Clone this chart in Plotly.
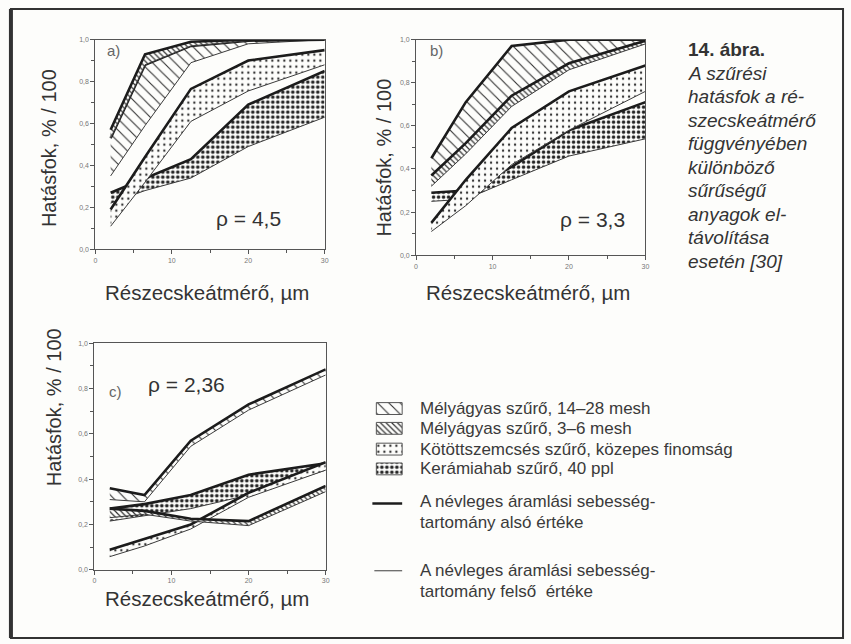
import plotly.graph_objects as go

W, H = 851, 644

# particle diameter (µm) at which the filter efficiencies were measured
diam = [2, 6.5, 12.5, 20, 30]

# --- a) rho = 4,5 ---  thick line: lower nominal flow velocity, thin: upper
a_deep1428_low = [0.53, 0.88, 0.97, 0.995, 1.0]
a_deep1428_high = [0.35, 0.59, 0.89, 0.98, 1.0]
a_deep36_low = [0.57, 0.93, 0.99, 1.0, 1.0]
a_deep36_high = [0.53, 0.88, 0.97, 0.995, 1.0]
a_bonded_low = [0.19, 0.44, 0.765, 0.90, 0.95]
a_bonded_high = [0.11, 0.32, 0.61, 0.755, 0.88]
a_foam_low = [0.27, 0.34, 0.43, 0.69, 0.85]
a_foam_high = [0.22, 0.28, 0.34, 0.49, 0.63]

# --- b) rho = 3,3 ---
b_deep1428_low = [0.45, 0.71, 0.97, 1.0, 1.0]
b_deep1428_high = [0.37, 0.52, 0.74, 0.89, 0.995]
b_deep36_low = [0.37, 0.52, 0.74, 0.89, 0.995]
b_deep36_high = [0.32, 0.47, 0.69, 0.86, 0.98]
b_bonded_low = [0.15, 0.35, 0.59, 0.76, 0.88]
b_bonded_high = [0.11, 0.23, 0.42, 0.58, 0.76]
b_foam_low = [0.29, 0.30, 0.41, 0.58, 0.71]
b_foam_high = [0.25, 0.26, 0.35, 0.46, 0.54]

# --- c) rho = 2,36 ---
c_deep1428_low = [0.36, 0.33, 0.57, 0.73, 0.885]
c_deep1428_high = [0.31, 0.30, 0.545, 0.705, 0.86]
c_deep36_low = [0.27, 0.26, 0.225, 0.215, 0.37]
c_deep36_high = [0.23, 0.245, 0.215, 0.195, 0.345]
c_bonded_low = [0.088, 0.135, 0.20, 0.34, 0.475]
c_bonded_high = [0.058, 0.105, 0.18, 0.32, 0.44]
c_foam_low = [0.27, 0.29, 0.33, 0.42, 0.47]
c_foam_high = [0.215, 0.24, 0.27, 0.33, 0.44]

y_ticks = [0.0, 0.2, 0.4, 0.6, 0.8, 1.0]
x_ticks = [0, 10, 20, 30]

legend_labels = [
    "Mélyágyas szűrő, 14–28 mesh",
    "Mélyágyas szűrő, 3–6 mesh",
    "Kötöttszemcsés szűrő, közepes finomság",
    "Kerámiahab szűrő, 40 ppl",
]
line_labels = [
    ["A névleges áramlási sebesség-", "tartomány alsó értéke"],
    ["A névleges áramlási sebesség-", "tartomány felső  értéke"],
]
caption = [
    "<b>14. ábra.</b>",
    "<i>A szűrési</i>",
    "<i>hatásfok a ré-</i>",
    "<i>szecskeátmérő</i>",
    "<i>függvényében</i>",
    "<i>különböző</i>",
    "<i>sűrűségű</i>",
    "<i>anyagok el-</i>",
    "<i>távolítása</i>",
    "<i>esetén [30]</i>",
]

INK = "#262626"
BG = "#fdfdfb"
FONT = "Liberation Sans, Arial, sans-serif"

PATTERNS = [
    dict(shape="\\", size=8, solidity=0.14, fgcolor="#333", bgcolor=BG, fillmode="replace"),
    dict(shape="\\", size=4, solidity=0.3, fgcolor="#333", bgcolor=BG, fillmode="replace"),
    dict(shape=".", size=6, solidity=0.12, fgcolor="#333", bgcolor=BG, fillmode="replace"),
    dict(shape=".", size=5, solidity=0.4, fgcolor="#222", bgcolor=BG, fillmode="replace"),
]


def px(x):
    return x / W


def py(y):
    return 1 - y / H


fig = go.Figure()


def add_band(xa, ya, low, high, pattern):
    # thin line = upper velocity limit, thick line = lower velocity limit
    fig.add_trace(go.Scatter(
        x=diam, y=high, mode="lines", xaxis=xa, yaxis=ya,
        line=dict(color="#3c3c3c", width=1), showlegend=False, hoverinfo="skip"))
    fig.add_trace(go.Scatter(
        x=diam, y=low, mode="lines", xaxis=xa, yaxis=ya,
        line=dict(color="#1c1c1c", width=2.6), fill="tonexty",
        fillpattern=pattern, showlegend=False, hoverinfo="skip"))


panels = [
    ("x", "y", [(a_deep1428_low, a_deep1428_high), (a_deep36_low, a_deep36_high),
                (a_bonded_low, a_bonded_high), (a_foam_low, a_foam_high)]),
    ("x2", "y2", [(b_deep1428_low, b_deep1428_high), (b_deep36_low, b_deep36_high),
                  (b_bonded_low, b_bonded_high), (b_foam_low, b_foam_high)]),
    ("x3", "y3", [(c_deep1428_low, c_deep1428_high), (c_deep36_low, c_deep36_high),
                  (c_bonded_low, c_bonded_high), (c_foam_low, c_foam_high)]),
]
draw_order = [3, 2, 0, 1]
for xa, ya, bands in panels:
    for i in draw_order:
        low, high = bands[i]
        add_band(xa, ya, low, high, PATTERNS[i])

# legend swatches drawn in their own small axis (units = pixels)
sw_rows = [409, 429, 450, 470]
for i, yc in enumerate(sw_rows):
    fig.add_trace(go.Scatter(
        x=[377, 403, 403, 377, 377], y=[yc - 6, yc - 6, yc + 6, yc + 6, yc - 6],
        mode="lines", fill="toself", fillpattern=PATTERNS[i],
        line=dict(color="#555", width=1), xaxis="x4", yaxis="y4",
        showlegend=False, hoverinfo="skip"))
fig.add_trace(go.Scatter(x=[373, 403], y=[505, 505], mode="lines",
                         line=dict(color="#1c1c1c", width=2.6),
                         xaxis="x4", yaxis="y4", showlegend=False, hoverinfo="skip"))
fig.add_trace(go.Scatter(x=[375, 403], y=[573, 573], mode="lines",
                         line=dict(color="#3c3c3c", width=1),
                         xaxis="x4", yaxis="y4", showlegend=False, hoverinfo="skip"))

axis_common_x = dict(range=[0, 30], tickvals=x_ticks, ticks="outside", ticklen=4,
                     tickwidth=1, tickcolor="#555", showline=True, linecolor="#555",
                     linewidth=1, mirror=True, showgrid=False, zeroline=False,
                     tickfont=dict(size=7, color="#777", family=FONT),
                     minor=dict(tickvals=[5, 15, 25], ticks="outside", ticklen=3,
                                tickcolor="#555"))
axis_common_y = dict(range=[0, 1], tickvals=y_ticks, tickformat=".1f", ticks="outside",
                     ticklen=4, tickwidth=1, tickcolor="#555", showline=True,
                     linecolor="#555", linewidth=1, mirror=True, showgrid=False,
                     zeroline=False, tickfont=dict(size=7, color="#777", family=FONT),
                     minor=dict(tickvals=[0.1, 0.3, 0.5, 0.7, 0.9], ticks="outside",
                                ticklen=3, tickcolor="#555"))

fig.update_layout(
    width=W, height=H, margin=dict(l=0, r=0, t=0, b=0),
    paper_bgcolor=BG, plot_bgcolor=BG, separators=", ",
    font=dict(family=FONT, color=INK),
    xaxis=dict(axis_common_x, domain=[px(94), px(325)], anchor="y"),
    yaxis=dict(axis_common_y, domain=[py(248), py(36)], anchor="x"),
    xaxis2=dict(axis_common_x, domain=[px(417), px(648)], anchor="y2"),
    yaxis2=dict(axis_common_y, domain=[py(254), py(36)], anchor="x2"),
    xaxis3=dict(axis_common_x, domain=[px(93), px(326)], anchor="y3"),
    yaxis3=dict(axis_common_y, domain=[py(572), py(343)], anchor="x3"),
    xaxis4=dict(domain=[px(370), px(410)], range=[370, 410], visible=False, anchor="y4"),
    yaxis4=dict(domain=[py(585), py(395)], range=[585, 395], visible=False, anchor="x4"),
)

ann = []


def text(x, y, s, size, color=INK, angle=0, xanchor="center"):
    ann.append(dict(x=px(x), y=py(y), xref="paper", yref="paper", text=s,
                    showarrow=False, xanchor=xanchor, yanchor="middle",
                    textangle=angle, font=dict(size=size, color=color, family=FONT)))


ytitle = "Hatásfok, % / 100"
xtitle = "Részecskeátmérő, µm"
text(48, 146, ytitle, 20, "#333", -90)
text(385, 155, ytitle, 20, "#333", -90)
text(52, 408, ytitle, 20, "#333", -90)
text(206, 292, xtitle, 20.5, "#333")
text(530, 292, xtitle, 20.5, "#333")
text(206, 601, xtitle, 20.5, "#333")

text(248, 217, "ρ = 4,5", 21, "#333")
text(595, 218, "ρ = 3,3", 21, "#333")
text(186, 385, "ρ = 2,36", 21, "#333")
text(104, 47, "a)", 15, "#666", xanchor="left")
text(429, 47, "b)", 15, "#666", xanchor="left")
text(106, 392, "c)", 15, "#666", xanchor="left")

for i, line in enumerate(caption):
    text(689, 46 + 23.8 * i, line, 19, "#333", xanchor="left")

for yc, lab in zip(sw_rows, legend_labels):
    text(419, yc, lab, 17, "#3a3a3a", xanchor="left")
for y0, lines in zip([503, 573], line_labels):
    for j, s in enumerate(lines):
        text(419, y0 + 21 * j, s, 17, "#3a3a3a", xanchor="left")

fig.update_layout(annotations=ann)

# outer frame of the figure
fig.update_layout(shapes=[
    dict(type="rect", xref="paper", yref="paper", x0=px(9), x1=px(847), y0=py(641), y1=py(5),
         line=dict(color="#333", width=2)),
    dict(type="line", xref="paper", yref="paper", x0=px(9), x1=px(9), y0=py(641), y1=py(5),
         line=dict(color="#333", width=4)),
])

fig.write_html("out.html")
